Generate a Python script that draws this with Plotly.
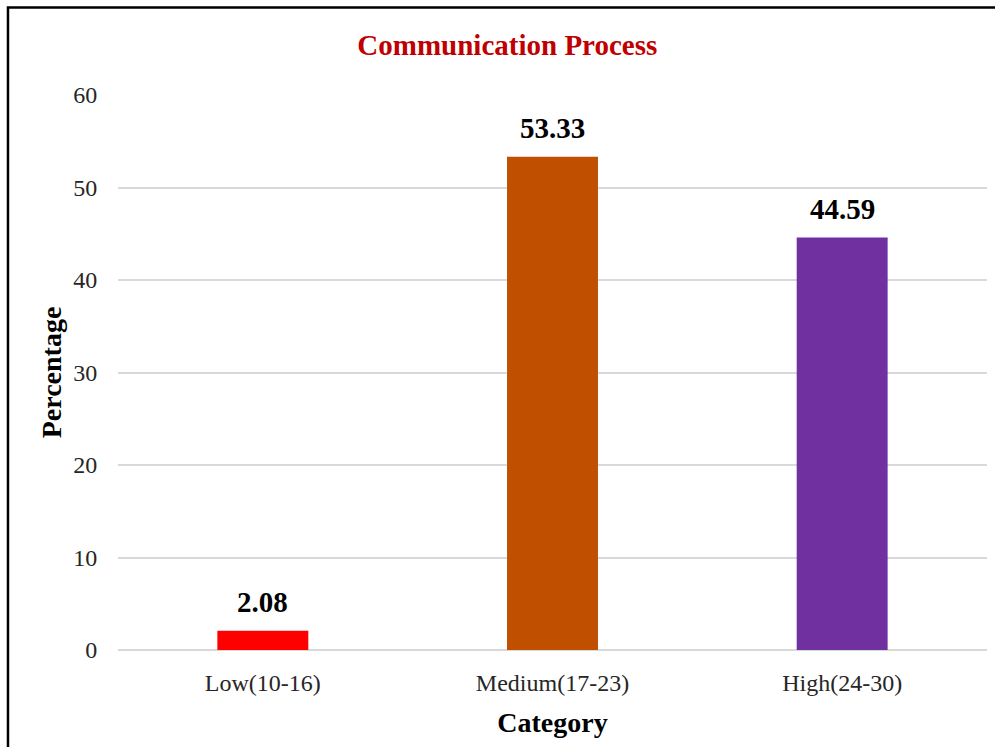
import plotly.graph_objects as go

categories = ["Low(10-16)", "Medium(17-23)", "High(24-30)"]
percentages = [2.08, 53.33, 44.59]
bar_colors = ["#FF0000", "#C05000", "#7030A0"]
y_ticks = [0, 10, 20, 30, 40, 50, 60]

SERIF = "Liberation Serif, Times New Roman, serif"

fig = go.Figure(
    go.Bar(
        x=categories,
        y=percentages,
        marker=dict(color=bar_colors, line=dict(width=0)),
        width=0.314,
        hoverinfo="x+y",
    )
)

# value labels above each bar
for cat, val in zip(categories, percentages):
    fig.add_annotation(
        x=cat, y=val, xref="x", yref="y",
        text=f"{val:.2f}", showarrow=False,
        yanchor="bottom", yshift=11,
        font=dict(family=SERIF, size=29, color="black", weight="bold"),
    )

fig.update_layout(
    width=995,
    height=747,
    margin=dict(l=118, r=8, t=95, b=97),
    paper_bgcolor="white",
    plot_bgcolor="white",
    showlegend=False,
    title=dict(
        text="Communication Process",
        x=0.448, xref="paper", xanchor="center",
        y=0.94, yanchor="middle",
        font=dict(family=SERIF, size=29, color="#C00000", weight="bold"),
    ),
    xaxis=dict(
        showgrid=False,
        showline=False,
        ticks="outside", ticklen=11, tickcolor="white",
        tickfont=dict(family=SERIF, size=24, color="#262626"),
        title=dict(text="Category", standoff=17,
                   font=dict(family=SERIF, size=28, color="black", weight="bold")),
    ),
    yaxis=dict(
        range=[0, 60],
        tickvals=y_ticks,
        showgrid=True, gridcolor="#D9D9D9", gridwidth=1.5,
        zeroline=True, zerolinecolor="#D9D9D9", zerolinewidth=1.5,
        showline=False,
        ticks="outside", ticklen=15, tickcolor="white",
        tickfont=dict(family=SERIF, size=24, color="#262626"),
        title=dict(text="Percentage", standoff=3,
                   font=dict(family=SERIF, size=28, color="black", weight="bold")),
    ),
    shapes=[
        dict(type="rect", xref="paper", yref="paper",
             x0=-0.1266, x1=1.05, y0=-0.3, y1=1.1577,
             line=dict(color="black", width=2.5), fillcolor="rgba(0,0,0,0)",
             layer="above"),
    ],
)

fig.write_html("out.html")
